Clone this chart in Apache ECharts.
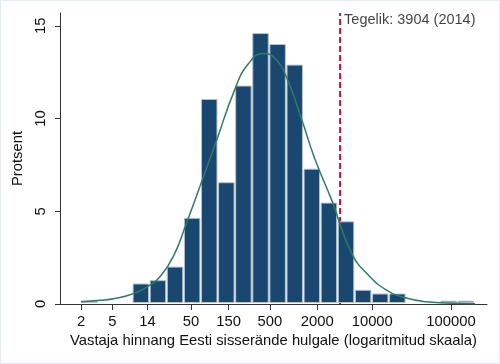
<!DOCTYPE html>
<html><head><meta charset="utf-8">
<script src="https://cdn.jsdelivr.net/npm/echarts@6/dist/echarts.min.js"></script>
<style>html,body{margin:0;padding:0;background:#fff}#c{width:500px;height:364px}</style>
</head><body><div id="c"></div>
<script>
// Histogram: bins of width 0.5 on the natural-log scale, starting at 2
const binStart = 2;
const binWidthLn = 0.5;
const binPercent = [0.15, 0, 0, 1.08, 1.26, 1.99, 4.62, 11.03, 6.54, 11.75, 14.58, 13.99, 12.88, 7.27, 5.44, 4.43, 0.74, 0.54, 0.54, 0, 0, 0.15, 0.15];
// Fitted normal curve
const curveX = [2, 3.5, 5.4, 8.4, 13.6, 21, 31, 42, 56, 101, 181, 267, 413, 582, 819, 1270, 1875, 3055, 5480, 9360, 15240, 24770, 49100, 107000, 202000];
const curveY = [0.12, 0.2, 0.3, 0.5, 0.9, 1.56, 2.73, 4.16, 5.6, 8.6, 11.6, 12.95, 13.51, 13.24, 12.2, 9.95, 7.8, 5.6, 2.73, 1.47, 0.75, 0.36, 0.12, 0.04, 0.02];
const actualValue = 3904;
const actualLabel = 'Tegelik: 3904 (2014)';
const xTickValues = [2, 5, 14, 50, 150, 500, 2000, 10000, 100000];
const yTickValues = [0, 5, 10, 15];
const xTitle = 'Vastaja hinnang Eesti sisserände hulgale (logaritmitud skaala)';
const yTitle = 'Protsent';

const L = Math.log10;
const binW10 = binWidthLn / Math.LN10;
const bars = binPercent.map((p, i) => [L(binStart) + i * binW10, L(binStart) + (i + 1) * binW10, p]).filter(d => d[2] > 0);
const xMin = 0.0343, xMax = 5.4573, yMax = 15.69;
const FONT = 'Liberation Sans, Arial, sans-serif';
const TXT = '#111';
const FS = 14.8;

const chart = echarts.init(document.getElementById('c'), null, {renderer: 'canvas'});
chart.setOption({
  animation: false,
  backgroundColor: '#fff',
  textStyle: {fontFamily: FONT},
  grid: {left: 60, right: 13, top: 13, bottom: 60},
  graphic: [{type: 'rect', shape: {x: 0.5, y: 0.5, width: 499, height: 363}, style: {fill: 'none', stroke: '#e3ebee', lineWidth: 1}, silent: true}],
  xAxis: {
    type: 'value', min: xMin, max: xMax,
    name: xTitle, nameLocation: 'middle', nameGap: 27,
    nameTextStyle: {fontSize: FS, color: TXT, fontFamily: FONT},
    axisLine: {show: true, lineStyle: {color: '#333', width: 1}},
    axisTick: {show: true, length: 6, lineStyle: {color: '#333'}, customValues: xTickValues.map(L)},
    axisLabel: {fontSize: FS, color: TXT, margin: 10, fontFamily: FONT, customValues: xTickValues.map(L),
      formatter: v => String(Math.round(Math.pow(10, v)))},
    splitLine: {show: false}
  },
  yAxis: {
    type: 'value', min: 0, max: yMax,
    name: yTitle, nameLocation: 'middle', nameGap: 30, nameRotate: 90,
    nameTextStyle: {fontSize: FS, color: TXT, fontFamily: FONT},
    axisLine: {show: true, lineStyle: {color: '#333', width: 1}},
    axisTick: {show: true, length: 5, lineStyle: {color: '#333'}, customValues: yTickValues},
    axisLabel: {fontSize: FS, color: TXT, rotate: 90, margin: 12, fontFamily: FONT, customValues: yTickValues},
    splitLine: {show: false}
  },
  series: [
    {
      type: 'line', z: 1, silent: true, symbol: 'none',
      data: [[L(actualValue), 0], [L(actualValue), yMax]],
      lineStyle: {color: '#c8103e', width: 2, type: [6, 3]}
    },
    {
      type: 'custom', z: 2, silent: true,
      data: bars,
      encode: {x: [0, 1], y: 2},
      renderItem: function (params, api) {
        const p0 = api.coord([api.value(0), 0]);
        const p1 = api.coord([api.value(1), api.value(2)]);
        return {type: 'rect',
          shape: {x: p0[0] + 0.8, y: p1[1], width: p1[0] - p0[0] - 1.6, height: p0[1] - p1[1] - 1.5},
          style: {fill: '#1a476f', stroke: '#b4c3cf', lineWidth: 1}};
      }
    },
    {
      type: 'line', z: 3, silent: true, symbol: 'none', smooth: true,
      data: curveX.map((x, i) => [L(x), curveY[i]]),
      lineStyle: {color: '#2e7b66', width: 1.5}
    },
    {
      type: 'scatter', z: 4, silent: true, symbolSize: 0,
      data: [[L(actualValue), 15.31]],
      label: {show: true, position: 'right', distance: 4, formatter: actualLabel, fontSize: 14.5, color: TXT, fontFamily: FONT}
    }
  ]
});
</script></body></html>
